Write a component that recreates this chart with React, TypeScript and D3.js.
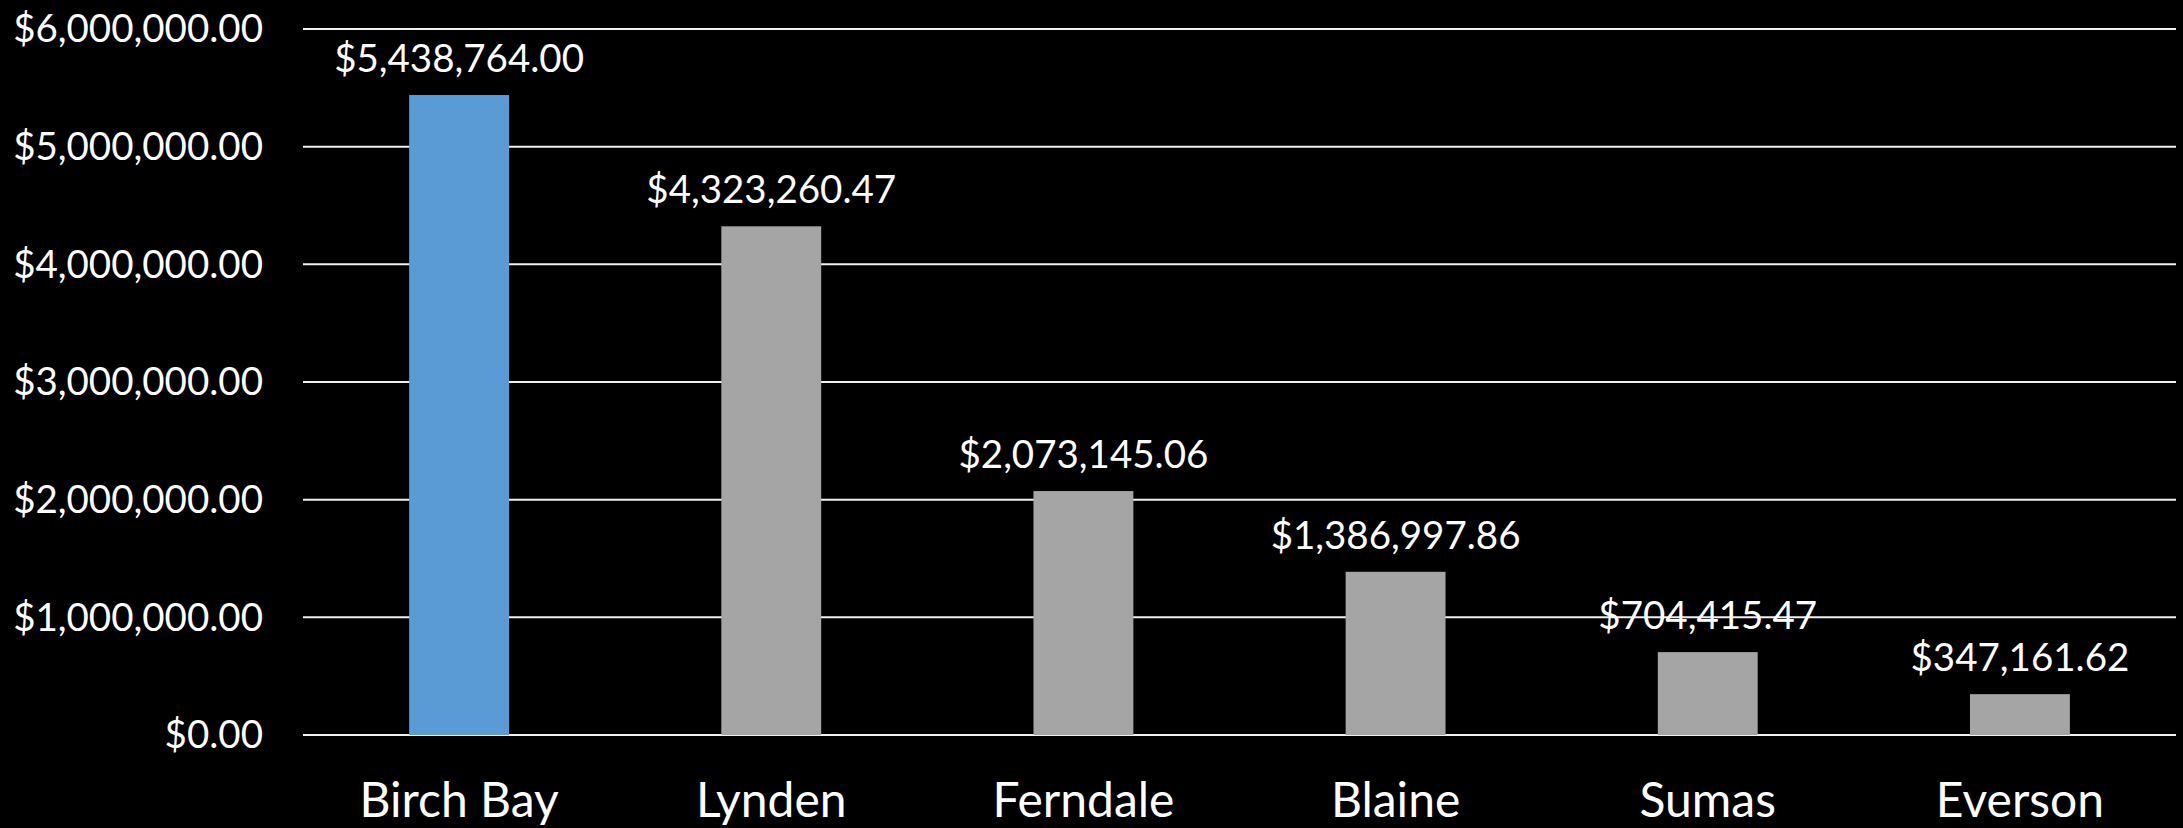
import * as d3 from "d3";
import { useEffect, useRef } from "react";

const towns = ["Birch Bay", "Lynden", "Ferndale", "Blaine", "Sumas", "Everson"];
const totals = [5438764.0, 4323260.47, 2073145.06, 1386997.86, 704415.47, 347161.62];
const yTicks = [0, 1000000, 2000000, 3000000, 4000000, 5000000, 6000000];

const width = 2183;
const height = 828;

//chart component
const TownBarChart = () => {
  const svgRef = useRef<SVGSVGElement>(null);

  useEffect(() => {
    const margin = { top: 29, right: 7, bottom: 93, left: 303 };
    const svg = d3.select(svgRef.current);
    svg.selectAll("*").remove();

    svg.attr("width", width).attr("height", height);

    svg
      .append("rect")
      .attr("width", width)
      .attr("height", height)
      .attr("fill", "#000");

    const fmt = (v: number) => "$" + d3.format(",.2f")(v);

    const xScale = d3
      .scaleBand()
      .domain(towns)
      .range([margin.left, width - margin.right])
      .paddingInner(0.68)
      .paddingOuter(0.34);

    const yScale = d3
      .scaleLinear()
      .domain([0, 6000000])
      .range([height - margin.bottom, margin.top]);

    // gridlines
    svg
      .selectAll(".grid")
      .data(yTicks)
      .enter()
      .append("line")
      .attr("class", "grid")
      .attr("x1", margin.left)
      .attr("x2", width - margin.right)
      .attr("y1", (d) => yScale(d))
      .attr("y2", (d) => yScale(d))
      .attr("stroke", "#f0f0f0")
      .attr("stroke-width", 2);

    // y labels
    svg
      .selectAll(".yLabel")
      .data(yTicks)
      .enter()
      .append("text")
      .attr("class", "yLabel")
      .attr("x", 263)
      .attr("y", (d) => yScale(d))
      .attr("dy", "0.35em")
      .attr("text-anchor", "end")
      .attr("fill", "#fff")
      .attr("font-size", 38.5)
      .attr("font-family", "Lato")
      .text((d) => fmt(d));

    const rows = towns.map((t, i) => ({ town: t, total: totals[i] }));

    // bars
    svg
      .selectAll(".bar")
      .data(rows)
      .enter()
      .append("rect")
      .attr("class", "bar")
      .attr("x", (d) => xScale(d.town) as number)
      .attr("y", (d) => yScale(d.total))
      .attr("width", xScale.bandwidth())
      .attr("height", (d) => yScale(0) - yScale(d.total))
      .attr("fill", (d, i) => (i === 0 ? "#5b9bd5" : "#a5a5a5"));

    // value labels
    svg
      .selectAll(".valLabel")
      .data(rows)
      .enter()
      .append("text")
      .attr("class", "valLabel")
      .attr("x", (d) => (xScale(d.town) as number) + xScale.bandwidth() / 2)
      .attr("y", (d) => yScale(d.total) - 23)
      .attr("text-anchor", "middle")
      .attr("fill", "#fff")
      .attr("font-size", 38.5)
      .attr("font-family", "Lato")
      .text((d) => fmt(d.total));

    // x labels
    svg
      .selectAll(".xLabel")
      .data(towns)
      .enter()
      .append("text")
      .attr("class", "xLabel")
      .attr("x", (d) => (xScale(d) as number) + xScale.bandwidth() / 2)
      .attr("y", 817)
      .attr("text-anchor", "middle")
      .attr("fill", "#fff")
      .attr("font-size", 48)
      .attr("font-family", "Lato")
      .text((d) => d);
  }, []);

  return (
    <svg
      ref={svgRef}
      style={{ position: "absolute", left: 0, top: 0, display: "block" }}
    ></svg>
  );
};

export default function App() {
  return <TownBarChart />;
}
